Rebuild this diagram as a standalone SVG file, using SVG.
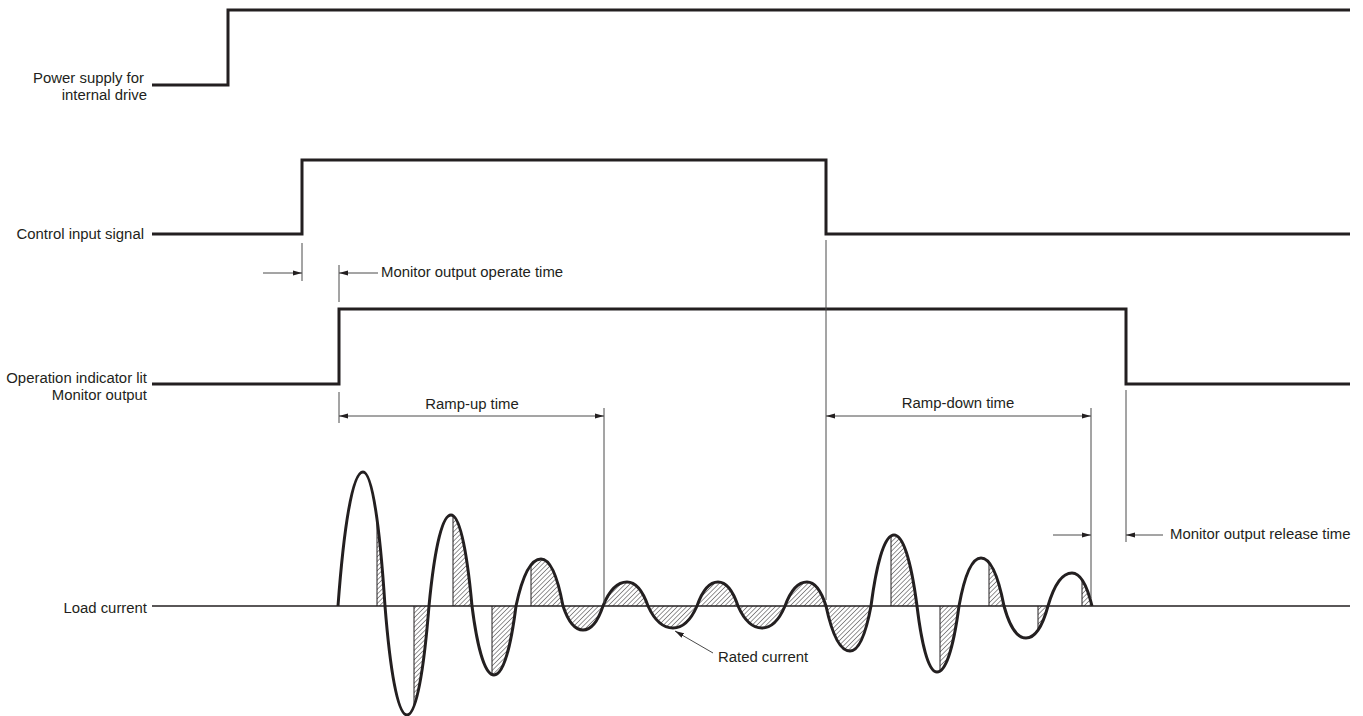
<svg xmlns="http://www.w3.org/2000/svg" width="1363" height="716" viewBox="0 0 1363 716">
<style>
  text { font-family: "Liberation Sans", Arial, sans-serif; font-size: 14.9px; fill: #231f20; }
  .sig { fill: none; stroke: #231f20; stroke-width: 3; stroke-linejoin: miter; }
  .axis { fill: none; stroke: #231f20; stroke-width: 1.6; }
  .dim { fill: none; stroke: #4a4a4a; stroke-width: 1; }
  .edge { fill: none; stroke: #231f20; stroke-width: 1; }
  .wave { fill: none; stroke: #231f20; stroke-width: 3; stroke-linejoin: round; }
  .end { text-anchor: end; }
  .mid { text-anchor: middle; }
</style>
<defs>
  <marker id="ah" markerUnits="userSpaceOnUse" markerWidth="10" markerHeight="6" refX="9" refY="3" orient="auto-start-reverse">
    <path d="M0,0.5 L9,3 L0,5.5 Z" fill="#231f20"/>
  </marker>
  <pattern id="hatch" width="3.3" height="3.3" patternUnits="userSpaceOnUse" patternTransform="rotate(45)">
    <line x1="0" y1="-1" x2="0" y2="4.3" stroke="#231f20" stroke-width="0.95"/>
  </pattern>
  <path id="curve" d="M338,606
    C343.5,532.3 351.75,472 363,472 C372.9,472 380.2,532.3 385,606
    C389.8,666 397.1,715 407,715 C416.9,715 424.2,666 429,606
    C433.8,555.9 441.1,515 451,515 C460.5,515 467.4,555.9 472,606
    C476.8,644 484.1,675 494,675 C503.9,675 511.2,644 516,606
    C521.5,580.1 529.75,559 541,559 C550.9,559 558.2,580.1 563,606
    C567.4,619.2 574,630 583,630 C592,630 598.6,619.2 603,606
    C608.3,592.8 616.2,582 627,582 C636.5,582 643.4,592.8 648,606
    C653.5,618.1 661.75,628 673,628 C683.8,628 691.7,618.1 697,606
    C701.6,592.8 708.6,582 718,582 C727,582 733.6,592.8 738,606
    C743.3,618.1 751.2,628 762,628 C772.4,628 779.9,618.1 785,606
    C789.8,592.8 797.1,582 807,582 C815.6,582 821.8,592.8 826,606
    C831.3,630.75 839.2,651 850,651 C859.5,651 866.4,630.75 871,606
    C876.1,567 883.65,535 894,535 C904.35,535 911.9,567 917,606
    C921.4,642.3 928,672 937,672 C946.9,672 954.2,642.3 959,606
    C963.8,579.6 971.1,558 981,558 C991.35,558 998.9,579.6 1004,606
    C1008.8,623.6 1016.1,638 1026,638 C1035.9,638 1043.2,623.6 1048,606
    C1053.3,587.85 1061.2,573 1072,573 C1081,573 1087.6,587.85 1092,606"/>
  <clipPath id="waveClip">
    <path d="M338,606
    C343.5,532.3 351.75,472 363,472 C372.9,472 380.2,532.3 385,606
    C389.8,666 397.1,715 407,715 C416.9,715 424.2,666 429,606
    C433.8,555.9 441.1,515 451,515 C460.5,515 467.4,555.9 472,606
    C476.8,644 484.1,675 494,675 C503.9,675 511.2,644 516,606
    C521.5,580.1 529.75,559 541,559 C550.9,559 558.2,580.1 563,606
    C567.4,619.2 574,630 583,630 C592,630 598.6,619.2 603,606
    C608.3,592.8 616.2,582 627,582 C636.5,582 643.4,592.8 648,606
    C653.5,618.1 661.75,628 673,628 C683.8,628 691.7,618.1 697,606
    C701.6,592.8 708.6,582 718,582 C727,582 733.6,592.8 738,606
    C743.3,618.1 751.2,628 762,628 C772.4,628 779.9,618.1 785,606
    C789.8,592.8 797.1,582 807,582 C815.6,582 821.8,592.8 826,606
    C831.3,630.75 839.2,651 850,651 C859.5,651 866.4,630.75 871,606
    C876.1,567 883.65,535 894,535 C904.35,535 911.9,567 917,606
    C921.4,642.3 928,672 937,672 C946.9,672 954.2,642.3 959,606
    C963.8,579.6 971.1,558 981,558 C991.35,558 998.9,579.6 1004,606
    C1008.8,623.6 1016.1,638 1026,638 C1035.9,638 1043.2,623.6 1048,606
    C1053.3,587.85 1061.2,573 1072,573 C1081,573 1087.6,587.85 1092,606 L338,606 Z"/>
  </clipPath>
</defs>

<g id="power-supply">
  <polyline class="sig" points="152,85 228,85 228,10 1350,10"/>
  <text class="end" x="144" y="83">Power supply for</text>
  <text class="end" x="147" y="100">internal drive</text>
</g>

<g id="control-input">
  <polyline class="sig" points="152,234 302,234 302,160 826,160 826,234 1350,234"/>
  <text class="end" x="144" y="239">Control input signal</text>
</g>

<g id="operation-indicator">
  <polyline class="sig" points="152,384 339,384 339,309 1126,309 1126,384 1350,384"/>
  <text class="end" x="147" y="383">Operation indicator lit</text>
  <text class="end" x="147" y="400">Monitor output</text>
</g>

<g id="load-current">
  <line class="axis" x1="152" y1="606" x2="1350" y2="606"/>
  <text class="end" x="147" y="613">Load current</text>
  <g clip-path="url(#waveClip)">
    <g fill="url(#hatch)">
      <rect x="377" y="460" width="8" height="260"/>
      <rect x="414" y="460" width="15" height="260"/>
      <rect x="453" y="460" width="19" height="260"/>
      <rect x="492" y="460" width="24" height="260"/>
      <rect x="531" y="460" width="340" height="260"/>
      <rect x="891" y="460" width="26" height="260"/>
      <rect x="940" y="460" width="19" height="260"/>
      <rect x="989" y="460" width="15" height="260"/>
      <rect x="1038" y="460" width="10" height="260"/>
      <rect x="1082" y="460" width="10" height="260"/>
    </g>
    <path class="edge" d="M377,460V720 M414,460V720 M453,460V720 M492,460V720 M531,460V720 M891,460V720 M940,460V720 M989,460V720 M1038,460V720 M1082,460V720"/>
  </g>
  <use href="#curve" class="wave"/>
</g>

<g id="connectors">
  <line class="dim" x1="302" y1="243" x2="302" y2="281"/>
  <line class="dim" x1="339" y1="265" x2="339" y2="302"/>
  <line class="dim" x1="263" y1="273" x2="302" y2="273" marker-end="url(#ah)"/>
  <line class="dim" x1="378" y1="273" x2="339" y2="273" marker-end="url(#ah)"/>
  <line class="dim" x1="339" y1="392" x2="339" y2="423"/>
  <line class="dim" x1="604" y1="408" x2="604" y2="603"/>
  <line class="dim" x1="339" y1="416" x2="604" y2="416" marker-start="url(#ah)" marker-end="url(#ah)"/>
  <line class="dim" x1="826" y1="240" x2="826" y2="600"/>
  <line class="dim" x1="1091" y1="408" x2="1091" y2="598"/>
  <line class="dim" x1="826" y1="416" x2="1091" y2="416" marker-start="url(#ah)" marker-end="url(#ah)"/>
  <line class="dim" x1="1126" y1="390" x2="1126" y2="542"/>
  <line class="dim" x1="1053" y1="535" x2="1091" y2="535" marker-end="url(#ah)"/>
  <line class="dim" x1="1163" y1="535" x2="1126" y2="535" marker-end="url(#ah)"/>
  <line class="dim" x1="713" y1="653" x2="675" y2="631" marker-end="url(#ah)"/>
</g>

<g id="labels">
  <text x="381" y="277">Monitor output operate time</text>
  <text class="mid" x="472" y="409">Ramp-up time</text>
  <text class="mid" x="958" y="408">Ramp-down time</text>
  <text x="1170" y="539">Monitor output release time</text>
  <text x="718" y="662">Rated current</text>
</g>
</svg>
